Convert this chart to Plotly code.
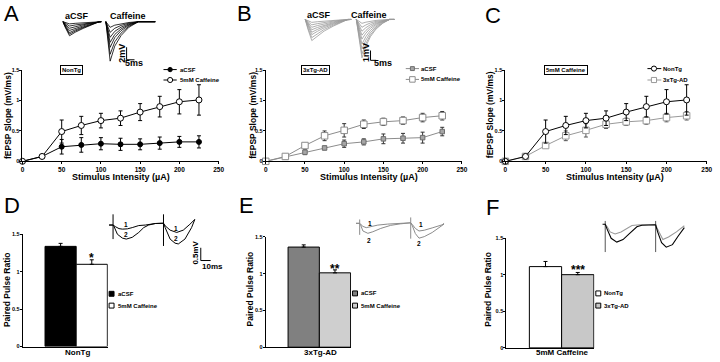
import plotly.graph_objects as go

W, H = 720, 362
FONT = "Arial, 'Liberation Sans', Helvetica, sans-serif"

# ---------------- data ----------------
stim = [0, 25, 50, 75, 100, 125, 150, 175, 200, 225]
nontg_acsf = [0, 0.08, 0.24, 0.27, 0.29, 0.28, 0.28, 0.30, 0.32, 0.32]
nontg_acsf_err = [0, 0.01, 0.12, 0.12, 0.10, 0.10, 0.09, 0.10, 0.09, 0.10]
nontg_caff = [0, 0.08, 0.49, 0.59, 0.67, 0.71, 0.81, 0.90, 0.98, 1.01]
nontg_caff_err = [0, 0.01, 0.19, 0.15, 0.12, 0.12, 0.14, 0.17, 0.20, 0.25]
tg_acsf = [0, 0.07, 0.15, 0.22, 0.29, 0.32, 0.37, 0.38, 0.39, 0.49]
tg_acsf_err = [0, 0.01, 0.04, 0.03, 0.06, 0.05, 0.08, 0.08, 0.09, 0.07]
tg_caff = [0, 0.08, 0.26, 0.42, 0.51, 0.61, 0.65, 0.67, 0.72, 0.75]
tg_caff_err = [0, 0.01, 0.03, 0.08, 0.11, 0.07, 0.06, 0.06, 0.07, 0.07]

x_ticks = [0, 50, 100, 150, 200, 250]
y_ticks = [0, 0.5, 1, 1.5]
y_ticktext = ["0", "0.5", "1", "1.5"]

# paired pulse ratio bars
ppr_D_names = ["aCSF", "5mM Caffeine"]
ppr_D = [1.34, 1.10]
ppr_D_err = [0.04, 0.06]
ppr_E_names = ["aCSF", "5mM Caffeine"]
ppr_E = [1.36, 1.01]
ppr_E_err = [0.03, 0.04]
ppr_F_names = ["NonTg", "3xTg-AD"]
ppr_F = [1.11, 1.00]
ppr_F_err = [0.07, 0.03]

# example fEPSP trace families (ms, mV): one waveform shape + peak amplitudes
A_acsf_t = [2.3, 3.5, 6.4, 10, 15, 20, 25.2, 26.5]
A_acsf_shape = [0, -0.35, -1, -0.75, -0.48, -0.22, 0, 0]
A_acsf_amp = [0.35, 0.7, 1.05, 1.4, 1.75, 2.0, 2.25]
A_caff_t = [29.4, 30.5, 32.1, 35, 39, 44, 50, 60.6]
A_caff_shape = [0, -0.4, -1, -0.62, -0.35, -0.14, 0, 0]
A_caff_amp = [0.9, 1.7, 2.5, 3.3, 4.1, 5.2, 6.3]
B_acsf_t = [3.2, 5.5, 9.0, 14, 20, 28, 36, 41, 44]
B_acsf_shape = [0, -0.45, -1, -0.78, -0.55, -0.32, -0.12, 0, 0]
B_acsf_amp = [0.3, 0.55, 0.8, 1.05, 1.3, 1.55, 1.85, 2.15]
B_caff_t = [48.5, 50.5, 53.5, 57, 61, 66, 72, 78, 82.2]
B_caff_shape = [0, -0.4, -1, -0.7, -0.45, -0.25, -0.1, 0, 0]
B_caff_amp = [0.4, 0.8, 1.2, 1.6, 2.0, 2.5, 3.0, 3.5, 3.9]

# paired-pulse example traces (ms, mV)
D_t1 = [0.3, 4.3, 7, 10.3, 13.7, 18.7, 23.7, 30.3, 37, 47, 53.7, 55.3, 57, 62, 68.7, 75.3, 82, 87]
D_v1 = [-0.03, -0.03, -0.10, -0.17, -0.19, -0.18, -0.13, -0.05, -0.03, 0.03, 0.04, 0.04, -0.06, -0.23, -0.32, -0.23, 0.0, 0.19]
D_t2 = [0.3, 4.3, 5, 8.7, 13.7, 17.7, 23.7, 30.3, 35.3, 40.3, 47, 53.7, 55.3, 57, 62, 67, 70.3, 77, 83.7, 87]
D_v2 = [-0.03, -0.03, -0.06, -0.39, -0.54, -0.58, -0.51, -0.32, -0.13, -0.03, 0.03, 0.04, 0.04, -0.13, -0.58, -0.74, -0.77, -0.58, -0.13, 0.19]
D_art_t = [4.3, 4.3, None, 55.3, 55.3]
D_art_v = [0.39, -0.58, None, 0.39, -0.85]

E_t1 = [3, 6.7, 8, 10, 13.3, 18, 25, 35, 45, 58.3, 60, 63, 66.7, 72, 80, 90, 92]
E_v1 = [0, 0, -0.05, -0.12, -0.17, -0.13, -0.07, -0.03, 0, 0.02, -0.05, -0.2, -0.3, -0.27, -0.18, -0.06, 0]
E_t2 = [3, 6.7, 8, 10, 15, 20, 28, 38, 48, 58.3, 60, 63, 66.7, 72, 80, 88, 92]
E_v2 = [0, 0, -0.1, -0.3, -0.39, -0.33, -0.2, -0.08, -0.02, 0.02, -0.1, -0.4, -0.58, -0.52, -0.36, -0.15, -0.03]
E_art_t = [6.7, 6.7, None, 58.3, 58.3]
E_art_v = [0.15, -0.45, None, 0.23, -0.6]

F_t_nt = [7.3, 10, 12, 16, 21.7, 28, 35, 42, 47, 55, 61, 63, 67, 71.7, 78, 84, 90]
F_v_nt = [0, 0, -0.2, -0.55, -0.7, -0.6, -0.35, -0.1, -0.04, -0.02, -0.02, -0.3, -0.72, -0.9, -0.8, -0.45, -0.13]
F_t_tg = [10, 12, 15, 20, 26, 32, 37, 45, 61, 63, 66, 68.3, 74, 82, 90]
F_v_tg = [0, -0.1, -0.3, -0.38, -0.3, -0.15, -0.05, -0.02, -0.02, -0.2, -0.45, -0.6, -0.5, -0.3, -0.06]
F_art_t = [10, 10, None, 61, 61]
F_art_v = [0.13, -1.09, None, 0.13, -1.09]

# ---------------- helpers ----------------
def fx(p):
    return p / W


def fy(p):
    return 1 - p / H


fig = go.Figure()
shapes = []
annotations = []


def text(x, y, s, size, xanchor="center", yanchor="middle", angle=0, bold=True,
         xref="paper", yref="paper", box=False, color="black"):
    if xref == "paper":
        x = fx(x)
    if yref == "paper":
        y = fy(y)
    a = dict(x=x, y=y, xref=xref, yref=yref, text=s, showarrow=False,
             xanchor=xanchor, yanchor=yanchor, textangle=angle,
             font=dict(family=FONT, size=size, color=color,
                       weight="bold" if bold else "normal"))
    if box:
        a.update(bordercolor="black", borderwidth=1, borderpad=1, bgcolor="white")
    annotations.append(a)


def hline(x0, x1, y, color):
    shapes.append(dict(type="line", xref="paper", yref="paper", x0=fx(x0), x1=fx(x1),
                       y0=fy(y), y1=fy(y), line=dict(color=color, width=1)))


def circ(cx, cy, r, fill, lc):
    shapes.append(dict(type="circle", xref="paper", yref="paper", x0=fx(cx - r), x1=fx(cx + r),
                       y0=fy(cy + r), y1=fy(cy - r), fillcolor=fill, line=dict(color=lc, width=1)))


def rect(cx, cy, r, fill, lc):
    shapes.append(dict(type="rect", xref="paper", yref="paper", x0=fx(cx - r), x1=fx(cx + r),
                       y0=fy(cy + r), y1=fy(cy - r), fillcolor=fill, line=dict(color=lc, width=1)))


axis_common = dict(showline=True, linecolor="black", linewidth=1, ticks="outside", ticklen=2,
                   tickwidth=1, tickcolor="black", showgrid=False, zeroline=False,
                   fixedrange=True)
xtickfont = dict(family=FONT, size=6.5, color="black", weight="bold")
ytickfont = dict(family=FONT, size=5.5, color="black", weight="bold")
layout = dict(width=W, height=H, margin=dict(l=0, r=0, t=0, b=0), paper_bgcolor="white",
              plot_bgcolor="rgba(0,0,0,0)", showlegend=False, barmode="group",
              bargap=0.4167, bargroupgap=0)

# ---------------- line panels A, B, C ----------------
line_panels = [("", 20.7, 219), ("2", 266.7, 465), ("3", 509, 712.7)]
for n, x0, x1 in line_panels:
    layout["xaxis" + n] = dict(axis_common, domain=[fx(x0), fx(x1)], range=[0, 250],
                               tickvals=x_ticks, tickfont=xtickfont, anchor="y" + n)
    layout["yaxis" + n] = dict(axis_common, domain=[fy(161), fy(68.3)], range=[0, 1.5],
                               tickvals=y_ticks, ticktext=y_ticktext, tickfont=ytickfont,
                               ticklabelstandoff=-1, anchor="x" + n)


def series(x, y, err, n, marker, lcolor, ecolor):
    fig.add_trace(go.Scatter(
        x=x, y=y, mode="lines+markers", xaxis="x" + n, yaxis="y" + n, cliponaxis=False,
        line=dict(color=lcolor, width=1), marker=marker,
        error_y=dict(type="data", array=err, color=ecolor, thickness=1, width=2),
        hoverinfo="skip"))


open_circle = dict(symbol="circle", size=6, color="white", line=dict(color="black", width=1))
filled_circle = dict(symbol="circle", size=5, color="black", line=dict(color="black", width=1))
gray_sq_small = dict(symbol="square", size=4.5, color="#a6a6a6", line=dict(color="#6e6e6e", width=1))
gray_sq_open = dict(symbol="square", size=6.5, color="white", line=dict(color="#8c8c8c", width=1))

series(stim, nontg_acsf, nontg_acsf_err, "", filled_circle, "black", "black")
series(stim, nontg_caff, nontg_caff_err, "", open_circle, "black", "black")
series(stim, tg_acsf, tg_acsf_err, "2", gray_sq_small, "#8c8c8c", "#333333")
series(stim, tg_caff, tg_caff_err, "2", gray_sq_open, "#8c8c8c", "#333333")
series(stim, tg_caff, tg_caff_err, "3", dict(gray_sq_open, line=dict(color="#999999", width=1)),
       "#999999", "#555555")
series(stim, nontg_caff, nontg_caff_err, "3", open_circle, "black", "black")

# line legends
hline(163.3, 176.7, 67.7, "black"); circ(170, 67.7, 2.2, "black", "black")
hline(163.3, 176.7, 78.3, "black"); circ(170, 78.3, 2.6, "white", "black")
text(177.5, 67.7, "aCSF", 6, xanchor="left")
text(177.5, 78.3, "5mM Caffeine", 6, xanchor="left")
hline(408.3, 421.7, 66.7, "#8c8c8c"); rect(415, 66.7, 2.0, "#a6a6a6", "#6e6e6e")
hline(408.3, 421.7, 77.7, "#8c8c8c"); rect(415, 77.7, 2.8, "white", "#8c8c8c")
text(422, 66.7, "aCSF", 6, xanchor="left")
text(422, 77.7, "5mM Caffeine", 6, xanchor="left")
hline(652.7, 666.7, 66.7, "black"); circ(659.3, 66.7, 2.6, "white", "black")
hline(652.7, 666.7, 78.3, "#999999"); rect(659.3, 78.3, 2.6, "white", "#999999")
text(666.5, 66.7, "NonTg", 6, xanchor="left")
text(666.5, 78.3, "3xTg-AD", 6, xanchor="left")

# boxed labels
text(70.5, 68, "NonTg", 6, box=True)
text(317, 68, "3xTg-AD", 6, box=True)
text(570, 68, "5mM Caffeine", 6, box=True)

# axis titles
for xc in (120, 371, 620):
    text(xc, 177, "Stimulus Intensity (\u00b5A)", 9)
for xc in (6, 253.5, 493.5):
    text(xc, 114, "fEPSP Slope (mV/ms)", 8.5, angle=-90)

# ---------------- bar panels D, E, F ----------------
bar_panels = [
    ("4", 21, 107, 235.3, 349.3, "NonTg", 76, ppr_D_names, ppr_D, ppr_D_err, ["#000000", "#ffffff"]),
    ("5", 266.7, 353, 237.7, 350, "3xTg-AD", 321.7, ppr_E_names, ppr_E, ppr_E_err, ["#808080", "#cfcfcf"]),
    ("6", 510, 599, 239, 350.7, "5mM Caffeine", 566.7, ppr_F_names, ppr_F, ppr_F_err, ["#ffffff", "#c8c8c8"]),
]
for n, x0, x1, ytop, ybot, cat, catx, names, vals, errs, cols in bar_panels:
    layout["xaxis" + n] = dict(axis_common, domain=[fx(x0), fx(x1)], type="category",
                               range=[-0.5, 0.296], ticks="", showticklabels=False,
                               anchor="y" + n)
    layout["yaxis" + n] = dict(axis_common, domain=[fy(ybot), fy(ytop)], range=[0, 1.5],
                               tickvals=y_ticks, ticktext=y_ticktext, tickfont=ytickfont,
                               ticklabelstandoff=-1, anchor="x" + n)
    for name, v, e, c in zip(names, vals, errs, cols):
        fig.add_trace(go.Bar(x=[cat], y=[v], name=name, xaxis="x" + n, yaxis="y" + n,
                             marker=dict(color=c, line=dict(color="black", width=1)),
                             error_y=dict(type="data", array=[e], arrayminus=[0], symmetric=False,
                                          color="black", thickness=1, width=2),
                             hoverinfo="skip"))
    text(catx, 361.5, cat, 8, yanchor="bottom")

for xc in (5, 251, 492):
    text(xc, 291, "Paired Pulse Ratio", 8.5, angle=-90)

# bar legends
rect(110.8, 295.7, 2.5, "black", "black"); text(115, 295.7, "aCSF", 6, xanchor="left")
rect(110.8, 307.7, 2.5, "white", "black"); text(115, 307.7, "5mM Caffeine", 6, xanchor="left")
rect(357, 295.3, 2.5, "#808080", "black"); text(361, 295.3, "aCSF", 6, xanchor="left")
rect(357, 307.7, 2.5, "#cfcfcf", "black"); text(361, 307.7, "5mM Caffeine", 6, xanchor="left")
rect(603, 295.3, 2.5, "white", "black"); text(607, 295.3, "NonTg", 6, xanchor="left")
rect(603, 307.7, 2.5, "#c8c8c8", "black"); text(607, 307.7, "3xTg-AD", 6, xanchor="left")

# significance stars
text(90.5, 259, "*", 12)
text(336.5, 270.5, "**", 12)
text(582.5, 271.5, "***", 12)

# ---------------- inset axes (hidden) ----------------
insets = {
    "7": ([58, 158], [12, 64], [0, 62.5], [-7.065, 1.099]),
    "8": ([303, 400], [10, 62], [0, 85.07], [-4.53, 0.67]),
    "9": ([108, 225], [210, 272], [0, 117], [-1.81, 0.578]),
    "10": ([355, 455], [210, 255], [0, 100], [-1.19, 0.539]),
    "11": ([600, 700], [210, 260], [0, 100], [-1.35, 0.578]),
}
for n, (xd, yd, xr, yr) in insets.items():
    layout["xaxis" + n] = dict(domain=[fx(xd[0]), fx(xd[1])], range=xr, visible=False,
                               fixedrange=True, anchor="y" + n)
    layout["yaxis" + n] = dict(domain=[fy(yd[1]), fy(yd[0])], range=yr, visible=False,
                               fixedrange=True, anchor="x" + n)


def wave(t, v, n, color, width=0.9):
    fig.add_trace(go.Scatter(x=t, y=v, mode="lines", xaxis="x" + n, yaxis="y" + n,
                             line=dict(color=color, width=width), hoverinfo="skip",
                             cliponaxis=False))


# A traces
for a in A_acsf_amp:
    wave(A_acsf_t, [a * s for s in A_acsf_shape], "7", "black", 0.8)
for a in A_caff_amp:
    wave(A_caff_t, [a * s for s in A_caff_shape], "7", "black", 0.8)
wave([42.5, 42.5, 47.5], [-4.08, -6.08, -6.08], "7", "black", 1)
text(76, 13, "aCSF", 9)
text(127, 13, "Caffeine", 9)
text(121, 51, "2mV", 9, angle=-90)
text(133.5, 61, "5ms", 9)

# B traces
for a in B_acsf_amp:
    wave(B_acsf_t, [a * s for s in B_acsf_shape], "8", "#9a9a9a", 0.8)
for a in B_caff_amp:
    wave(B_caff_t, [a * s for s in B_caff_shape], "8", "#9a9a9a", 0.8)
wave([61.1, 61.1, 66.1], [-3.16, -4.16, -4.16], "8", "black", 1)
text(320.5, 12, "aCSF", 9)
text(371.5, 12, "Caffeine", 9)
text(368, 50, "1mV", 9, angle=-90)
text(385, 61, "5ms", 9)

# D paired-pulse traces
wave(D_art_t, D_art_v, "9", "black", 1)
wave(D_t1, D_v1, "9", "black", 1)
wave(D_t2, D_v2, "9", "black", 1)
wave([93, 93, 103], [-0.92, -1.42, -1.42], "9", "black", 1)
text(17.7, -0.01, "1", 6.5, xref="x9", yref="y9")
text(17.7, -0.41, "2", 6.5, xref="x9", yref="y9")
text(68, -0.15, "1", 6.5, xref="x9", yref="y9")
text(68, -0.55, "2", 6.5, xref="x9", yref="y9")
text(196, 254, "0.5mV", 8, angle=-90)
text(213, 268, "10ms", 8)

# E paired-pulse traces
wave(E_art_t, E_art_v, "10", "#8c8c8c", 1)
wave(E_t1, E_v1, "10", "#8c8c8c", 1)
wave(E_t2, E_v2, "10", "#8c8c8c", 1)
text(16.7, 0.0, "1", 6.5, xref="x10", yref="y10")
text(16, -0.68, "2", 6.5, xref="x10", yref="y10")
text(68.3, -0.06, "1", 6.5, xref="x10", yref="y10")
text(66.7, -0.8, "2", 6.5, xref="x10", yref="y10")

# F paired-pulse traces
wave(F_art_t, F_art_v, "11", "#555555", 1)
wave(F_t_tg, F_v_tg, "11", "#999999", 1.1)
wave(F_t_nt, F_v_nt, "11", "black", 1.1)

# panel letters
for s, x, y in (("A", 0, 11), ("B", 236, 11), ("C", 486, 12.5),
                ("D", 0, 205.5), ("E", 238, 205.5), ("F", 487, 207.5)):
    text(x, y, s, 22, xanchor="left", bold=False)

layout["shapes"] = shapes
layout["annotations"] = annotations
fig.update_layout(**layout)
fig.write_html("out.html", config={"displayModeBar": False},
               post_script="document.body.style.margin='0';document.body.style.overflow='hidden';")
